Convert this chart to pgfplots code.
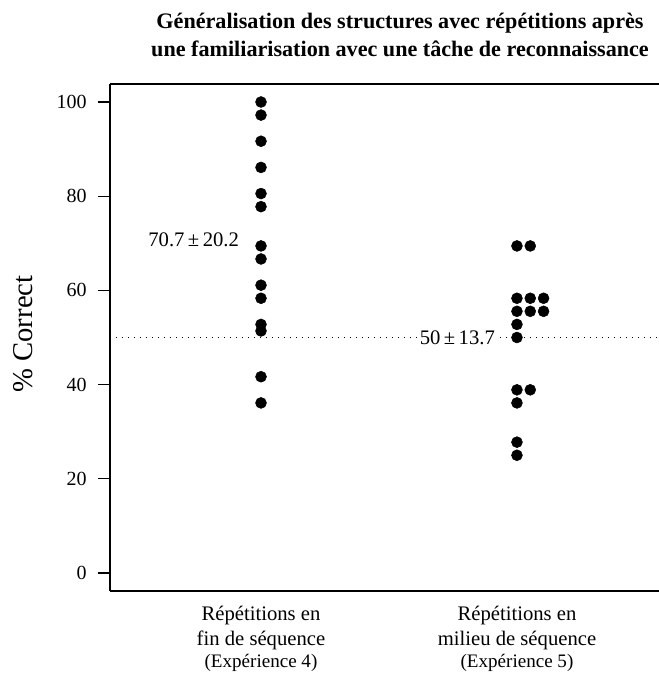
\documentclass[border=0pt]{standalone}
\usepackage{fontspec}
\setmainfont{Liberation Serif}
\usepackage{pgfplots}
\pgfplotsset{compat=1.18}
\begin{document}
\begin{tikzpicture}
\begin{axis}[
  scale only axis,
  width=411.75pt, height=380.25pt,
  xmin=0.41, xmax=2.555,
  ymin=-3.82, ymax=103.82,
  axis x line=box, axis y line=left,
  axis line style={-, line width=0.9pt},
  xtick=\empty,
  ytick={0,20,40,60,80,100},
  tick align=outside,
  major tick length=9pt,
  tick style={line width=0.8pt, black},
  /pgf/number format/assume math mode=true,
  yticklabel style={font=\fontsize{15}{17}\selectfont, xshift=-5pt},
  clip=false,
]
\addplot[black, line width=0.75pt, dash pattern=on 0.75pt off 3.75pt] coordinates {(0.41,50) (2.555,50)};
\addplot[only marks, mark=*, mark size=4.1pt, black] coordinates {
(1,100) (1,97.22) (1,91.67) (1,86.11) (1,80.56) (1,77.78) (1,69.44) (1,66.67)
(1,61.11) (1,58.33) (1,52.78) (1,51.39) (1,41.67) (1,36.11)
};
\addplot[only marks, mark=*, mark size=4.1pt, black] coordinates {
(2,69.44) (2.052,69.44)
(2,58.33) (2.052,58.33) (2.104,58.33)
(2,55.56) (2.052,55.56) (2.104,55.56)
(2,52.78) (2,50)
(2,38.89) (2.052,38.89)
(2,36.11) (2,27.78) (2,25)
};
\node[anchor=east, fill=white, inner sep=1pt, font=\fontsize{15.5}{17}\selectfont] at (axis cs:0.92,70.7) {70.7\,±\,20.2};
\node[anchor=east, fill=white, inner sep=1pt, font=\fontsize{15.5}{17}\selectfont] at (axis cs:1.92,50) {50\,±\,13.7};
\end{axis}
% title
\node[anchor=base, font=\bfseries\fontsize{16.6}{19}\selectfont] at (217.5pt,421.5pt) {Généralisation des structures avec répétitions après};
\node[anchor=base, font=\bfseries\fontsize{16.6}{19}\selectfont] at (217.5pt,400.5pt) {une familiarisation avec une tâche de reconnaissance};
% y label
\node[rotate=90, anchor=base, inner sep=0pt, font=\fontsize{21.5}{24}\selectfont] at (-57.75pt,192.75pt) {\% Correct};
% group labels
\node[anchor=base, font=\fontsize{15.5}{17}\selectfont] at (113.25pt,-21.75pt) {Répétitions en};
\node[anchor=base, font=\fontsize{15.5}{17}\selectfont] at (113.25pt,-40.5pt) {fin de séquence};
\node[anchor=base, font=\fontsize{14.3}{16}\selectfont] at (113.25pt,-57pt) {(Expérience 4)};
\node[anchor=base, font=\fontsize{15.5}{17}\selectfont] at (305.25pt,-21.75pt) {Répétitions en};
\node[anchor=base, font=\fontsize{15.5}{17}\selectfont] at (305.25pt,-40.5pt) {milieu de séquence};
\node[anchor=base, font=\fontsize{14.3}{16}\selectfont] at (305.25pt,-57pt) {(Expérience 5)};
\pgfresetboundingbox
\useasboundingbox (-82.5pt,-63pt) rectangle (411.75pt,443.25pt);
\end{tikzpicture}
\end{document}
